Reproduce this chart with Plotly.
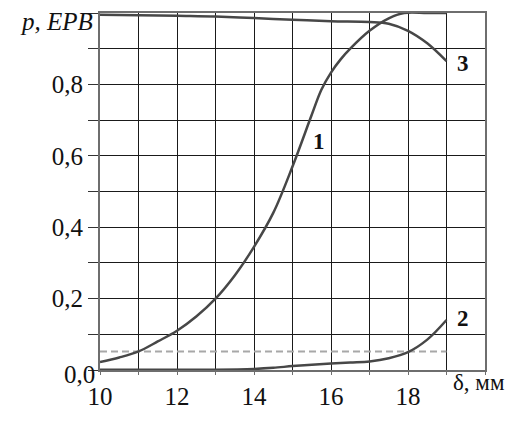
import plotly.graph_objects as go

# ---- data ----
x_curve1 = [10, 10.5, 11, 11.5, 12, 12.5, 13, 13.5, 14, 14.5, 15, 15.5, 15.75, 16, 16.25, 16.5, 17, 17.5, 17.9, 18.5, 19]
p_curve1 = [0.022, 0.035, 0.052, 0.08, 0.11, 0.15, 0.2, 0.265, 0.345, 0.44, 0.57, 0.715, 0.785, 0.833, 0.87, 0.9, 0.95, 0.985, 1.0, 1.0, 1.0]

x_curve2 = [10, 11, 12, 13, 14, 14.5, 15, 15.5, 16, 16.5, 17, 17.5, 18, 18.5, 19]
p_curve2 = [0.001, 0.001, 0.001, 0.001, 0.003, 0.006, 0.011, 0.015, 0.018, 0.021, 0.024, 0.033, 0.05, 0.085, 0.14]

x_curve3 = [10, 11, 12, 13, 14, 15, 16, 17, 17.5, 18, 18.5, 19]
p_curve3 = [0.995, 0.994, 0.992, 0.99, 0.986, 0.981, 0.977, 0.975, 0.97, 0.95, 0.915, 0.865]

x_level = [10, 19]
p_level = [0.052, 0.052]

x_tickvals = [10, 11, 12, 13, 14, 15, 16, 17, 18, 19, 20]
x_ticktext = ["10", "", "12", "", "14", "", "16", "", "18", "", ""]
y_tickvals = [0, 0.1, 0.2, 0.3, 0.4, 0.5, 0.6, 0.7, 0.8, 0.9, 1.0]
y_ticktext = ["", "", "0,2", "", "0,4", "", "0,6", "", "0,8", "", ""]

curve_labels = ["1", "2", "3"]
label_x = [15.68, 19.42, 19.42]
label_y = [0.64, 0.143, 0.858]

FONT = "Liberation Serif, Times New Roman, Times, serif"
CURVE = "#474747"

fig = go.Figure()
fig.add_trace(go.Scatter(x=x_level, y=p_level, mode="lines",
                         line=dict(color="#a8a8a8", width=2, dash="7px,4px")))
for xs, ys in [(x_curve1, p_curve1), (x_curve2, p_curve2), (x_curve3, p_curve3)]:
    fig.add_trace(go.Scatter(x=xs, y=ys, mode="lines",
                             line=dict(color=CURVE, width=2.5, shape="spline", smoothing=1.0)))

for t, lx, ly in zip(curve_labels, label_x, label_y):
    fig.add_annotation(x=lx, y=ly, text="<b>%s</b>" % t, showarrow=False,
                       xanchor="center", yanchor="middle",
                       font=dict(family=FONT, size=23, color="#111"))

fig.add_annotation(xref="paper", yref="paper", x=-0.013, y=0.977, text="<i>p, EPB</i>",
                   showarrow=False, xanchor="right", yanchor="middle",
                   font=dict(family=FONT, size=25, color="#111"))
fig.add_annotation(xref="paper", yref="paper", x=0.912, y=-0.036, text="δ, мм",
                   showarrow=False, xanchor="left", yanchor="middle",
                   font=dict(family=FONT, size=23, color="#111"))
fig.add_annotation(xref="paper", yref="paper", x=-0.008, y=-0.012, text="0,0",
                   showarrow=False, xanchor="right", yanchor="middle",
                   font=dict(family=FONT, size=25, color="#111"))

fig.update_xaxes(range=[10, 20], tickmode="array", tickvals=x_tickvals, ticktext=x_ticktext,
                 showgrid=True, gridcolor="#1a1a1a", gridwidth=1,
                 showline=True, linecolor="#6e6e6e", linewidth=2, mirror=True,
                 ticks="outside", ticklen=3, tickcolor="#6e6e6e",
                 tickfont=dict(family=FONT, size=25, color="#111"), zeroline=False)
fig.update_yaxes(range=[0, 1], tickmode="array", tickvals=y_tickvals, ticktext=y_ticktext,
                 showgrid=True, gridcolor="#1a1a1a", gridwidth=1,
                 showline=True, linecolor="#6e6e6e", linewidth=2, mirror=True,
                 ticks="outside", ticklen=10, tickcolor="#333",
                 tickfont=dict(family=FONT, size=25, color="#111"), zeroline=False)

fig.update_layout(width=509, height=421, margin=dict(l=100, r=24, t=11, b=24),
                  paper_bgcolor="white", plot_bgcolor="white", showlegend=False,
                  font=dict(family=FONT))

fig.write_html("out.html")
